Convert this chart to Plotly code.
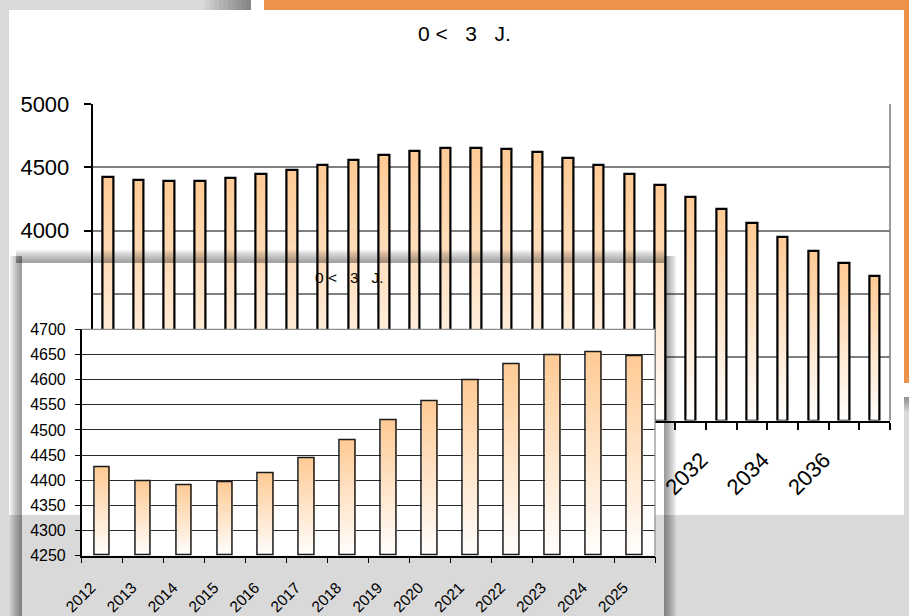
import plotly.graph_objects as go

# ---------------- data ----------------
years = list(range(2012, 2038))
values = [4425, 4398, 4390, 4395, 4414, 4444, 4479, 4520, 4557, 4598, 4630, 4649, 4655, 4646,
          4621, 4575, 4520, 4445, 4357, 4269, 4168, 4062, 3948, 3842, 3741, 3638]
small_years = years[:14]
small_values = values[:14]
chart_title = "0 <" + "\u00a0" * 3 + "3" + "\u00a0" * 3 + "J."
# tick labels of the large (back) chart that are not hidden by the small chart
big_x_labels = [2032, 2034, 2036]
big_y_labels = [4000, 4500, 5000]

# ---------------- geometry helpers ----------------
W, H = 909, 616
FONT = "Liberation Sans, Arial, sans-serif"


def fx(p):
    return p / W


def fy(p):
    return 1 - p / H


def rect(x0, y0, x1, y1, color, layer="below", opacity=1.0):
    return dict(type="rect", xref="paper", yref="paper",
                x0=fx(x0), x1=fx(x1), y0=fy(y1), y1=fy(y0),
                fillcolor=color, line_width=0, layer=layer, opacity=opacity)


def grad_color(f):
    r = 255
    g = round(255 + (203 - 255) * f)
    b = round(255 + (150 - 255) * f)
    return f"rgb({r},{g},{b})"


fig = go.Figure()

N = 40
BIG_BASE, BIG_TOP = 2500, 5000
SM_BASE, SM_TOP = 4250, 4700

# big chart gradient bars (drawn tallest first so the lighter, shorter ones sit on top)
for k in range(N, 0, -1):
    f = k / N
    fig.add_trace(go.Bar(x=years, y=[(v - BIG_BASE) * f for v in values], base=BIG_BASE,
                         width=0.34, marker=dict(color=grad_color(f), line=dict(width=0)),
                         xaxis="x", yaxis="y", hoverinfo="skip", showlegend=False))
fig.add_trace(go.Bar(x=years, y=[v - BIG_BASE for v in values], base=BIG_BASE, width=0.34,
                     marker=dict(color="rgba(0,0,0,0)", line=dict(color="black", width=2.2)),
                     xaxis="x", yaxis="y", hoverinfo="skip", showlegend=False))

# small chart gradient bars
for k in range(N, 0, -1):
    f = k / N
    fig.add_trace(go.Bar(x=small_years, y=[(v - SM_BASE) * f for v in small_values], base=SM_BASE,
                         width=0.38, marker=dict(color=grad_color(f), line=dict(width=0)),
                         xaxis="x3", yaxis="y3", hoverinfo="skip", showlegend=False))
fig.add_trace(go.Bar(x=small_years, y=[v - SM_BASE for v in small_values], base=SM_BASE, width=0.38,
                     marker=dict(color="rgba(0,0,0,0)", line=dict(color="#1a1a1a", width=1.5)),
                     xaxis="x3", yaxis="y3", hoverinfo="skip", showlegend=False))

# ---------------- decorations ----------------
shapes = []
shapes.append(rect(9, 10, 904, 515, "white"))
shapes.append(rect(251, 0, 264, 10, "white"))
shapes.append(rect(904, 383, 909, 397, "white"))
shapes.append(rect(264, 0, 909, 10, "#EF9249"))
shapes.append(rect(904, 0, 909, 383, "#EF9249"))
for i in range(10):
    shapes.append(rect(205 + i * 4.6, 0, 251, 10, "black", opacity=0.045))
for i in range(6):
    shapes.append(rect(904, 397, 909, 397 + 14 - i * 2.3, "black", opacity=0.06))
shapes.append(dict(type="line", xref="paper", yref="paper", x0=fx(890), x1=fx(890),
                   y0=fy(420.5), y1=fy(104), line=dict(color="#9a9a9a", width=2), layer="below"))
shapes.append(dict(type="line", xref="paper", yref="paper", x0=fx(655), x1=fx(655),
                   y0=fy(555.7), y1=fy(329.3), line=dict(color="#8a8a8a", width=1.2), layer="above"))
shapes.append(dict(type="line", xref="paper", yref="paper", x0=fx(81.7), x1=fx(655),
                   y0=fy(329.3), y1=fy(329.3), line=dict(color="#8a8a8a", width=1.2), layer="above"))

for i in range(7):
    shapes.append(rect(10 + i * 1.7, 256, 22, 616, "black", layer="above", opacity=0.065))
for i in range(7):
    shapes.append(rect(16, 250 + i * 1.8, 664, 263, "black", layer="above", opacity=0.06))
for i in range(7):
    shapes.append(rect(664, 256, 676 - i * 1.7, 616, "black", layer="above", opacity=0.065))

annotations = [
    dict(text=chart_title, x=fx(464), y=fy(33), xref="paper", yref="paper",
         showarrow=False, font=dict(family=FONT, size=21, color="black"),
         xanchor="center", yanchor="middle"),
    dict(text=chart_title, x=fx(349), y=fy(277), xref="paper", yref="paper",
         showarrow=False, font=dict(family=FONT, size=15.5, color="black"),
         xanchor="center", yanchor="middle"),
]

fig.update_layout(
    width=W, height=H, autosize=False,
    margin=dict(l=0, r=0, t=0, b=0, pad=0, autoexpand=False),
    paper_bgcolor="#d9d9d9", plot_bgcolor="white",
    barmode="overlay", bargap=0, showlegend=False,
    font=dict(family=FONT, color="black"),
    shapes=shapes, annotations=annotations,
    xaxis=dict(domain=[fx(92.5), fx(890)], anchor="y", type="linear", automargin=False,
               range=[2011.5, 2037.5], tickmode="array", tickvals=big_x_labels, ticks="",
               tickangle=-45, tickfont=dict(size=22, family=FONT),
               showline=True, linecolor="black", linewidth=2,
               showgrid=False, zeroline=False,
               ticklabelstandoff=16, ticklabelshift=-20,
               minor=dict(ticks="outside", tick0=2011.5, dtick=1, ticklen=7,
                          tickcolor="black", tickwidth=1.5, showgrid=False)),
    yaxis=dict(domain=[fy(420.5), fy(104)], anchor="x", range=[BIG_BASE, BIG_TOP], automargin=False,
               tickmode="array", tickvals=big_y_labels, ticks="outside", ticklen=7,
               tickcolor="black", tickwidth=1.5,
               tickfont=dict(size=22, family=FONT), showline=True, linecolor="black",
               linewidth=1.5, showgrid=True, gridcolor="#7f7f7f", gridwidth=1.8,
               zeroline=False, ticklabelstandoff=10,
               minor=dict(tick0=BIG_BASE, dtick=500, showgrid=True, gridcolor="#7f7f7f",
                          gridwidth=1.8, ticks="")),
    xaxis2=dict(domain=[fx(22), fx(664)], anchor="y2", range=[0, 1], showgrid=False, automargin=False,
                zeroline=False, showline=False, showticklabels=False, ticks=""),
    yaxis2=dict(domain=[0, fy(263)], anchor="x2", range=[0, 1], showgrid=False, automargin=False,
                zeroline=False, showline=False, showticklabels=False, ticks=""),
    xaxis3=dict(domain=[fx(81.7), fx(655)], anchor="y3", type="linear", automargin=False,
                range=[2011.5, 2025.5], tick0=2012, dtick=1, ticks="",
                tickangle=-45, tickfont=dict(size=15.5, family=FONT),
                showline=True, linecolor="black", linewidth=1.5,
                showgrid=False, zeroline=False,
                ticklabelstandoff=15, ticklabelshift=-11,
                minor=dict(ticks="outside", tick0=2011.5, dtick=1, ticklen=6,
                           tickcolor="black", tickwidth=1.2, showgrid=False)),
    yaxis3=dict(domain=[fy(555.7), fy(329.3)], anchor="x3", range=[SM_BASE, SM_TOP], automargin=False,
                dtick=50, ticks="outside", ticklen=5, tickcolor="black", tickwidth=1.2,
                tickfont=dict(size=16, family=FONT), showline=True, linecolor="black",
                linewidth=1.5, showgrid=True, gridcolor="#2a2a2a", gridwidth=1,
                zeroline=False, ticklabelstandoff=6),
)

fig.write_html("out.html", config={"displayModeBar": False},
               post_script="document.body.style.margin='0px';"
                           "document.body.style.overflow='hidden';")
